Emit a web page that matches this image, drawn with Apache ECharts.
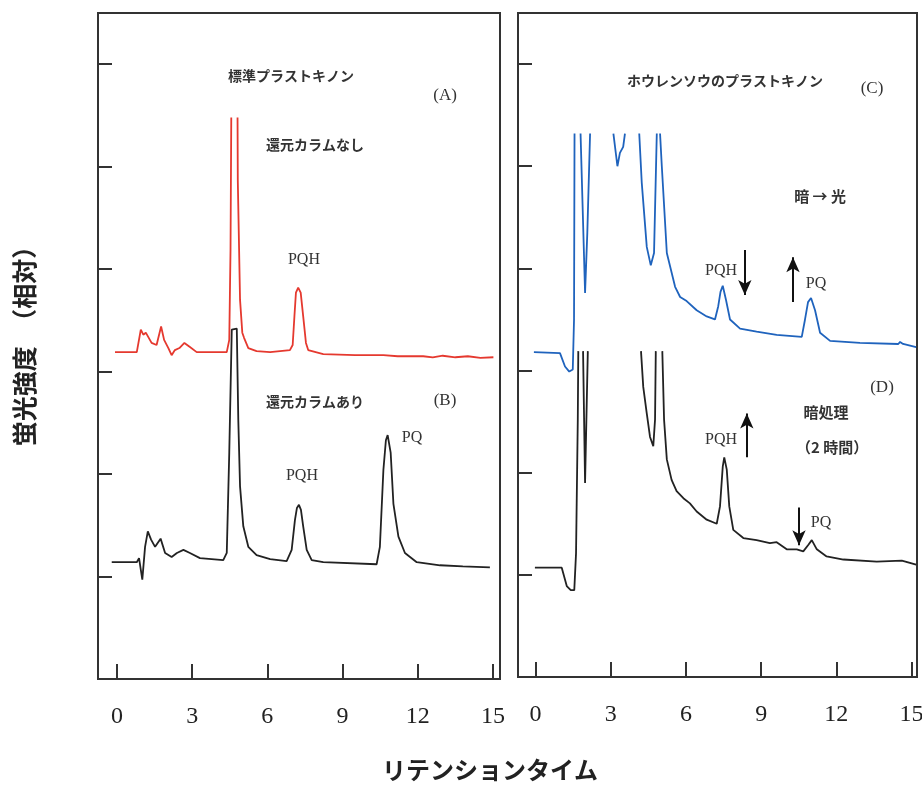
<!DOCTYPE html>
<html>
<head>
<meta charset="utf-8">
<script src="https://cdn.jsdelivr.net/npm/echarts@6/dist/echarts.min.js"></script>
<style>
  html, body { margin: 0; padding: 0; background: #fff; }
  #chart { width: 922px; height: 807px; }
</style>
</head>
<body>
<div id="chart"></div>
<script>
// retention time ticks / intensity ticks
var timeTicks = [0, 3, 6, 9, 12, 15]
var intensityTicks = [1, 2, 3, 4, 5, 6]

// (A) standard plastoquinone, no reduction column (red); null = trace leaves the plot
var traceA = [
  [-0.08, 3.19], [0.79, 3.19], [0.95, 3.41], [1.05, 3.36], [1.15, 3.38], [1.38, 3.28],
  [1.58, 3.26], [1.76, 3.44], [1.88, 3.31], [2.05, 3.23], [2.18, 3.16], [2.31, 3.21],
  [2.49, 3.23], [2.69, 3.28], [2.91, 3.24], [3.18, 3.19], [4.38, 3.19], [4.48, 3.31],
  [4.53, 4.19], [4.56, 5.48], null,
  [4.81, 5.48], [4.82, 4.87], [4.91, 3.70], [5.00, 3.38], [5.07, 3.33], [5.24, 3.23],
  [5.57, 3.20], [6.11, 3.19], [6.90, 3.21], [7.01, 3.26], [7.08, 3.54], [7.14, 3.77],
  [7.23, 3.82], [7.33, 3.77], [7.43, 3.54], [7.54, 3.28], [7.63, 3.21], [8.23, 3.17],
  [9.5, 3.16], [10.63, 3.16], [11.2, 3.15], [12.22, 3.15], [12.6, 3.14], [13.0, 3.155],
  [13.5, 3.14], [14.0, 3.15], [14.5, 3.135], [15.02, 3.14]
]

// (B) with reduction column (black)
var traceB = [
  [-0.21, 1.14], [0.79, 1.14], [0.88, 1.18], [1.01, 0.97], [1.12, 1.29], [1.23, 1.44],
  [1.36, 1.36], [1.52, 1.29], [1.74, 1.37], [1.92, 1.23], [2.18, 1.19], [2.39, 1.23],
  [2.65, 1.26], [2.91, 1.23], [3.31, 1.18], [4.24, 1.16], [4.38, 1.23], [4.48, 2.21],
  [4.58, 3.41], [4.60, 3.42], [4.78, 3.42], [4.84, 2.53], [4.91, 1.88], [5.04, 1.49],
  [5.24, 1.29], [5.57, 1.21], [6.11, 1.17], [6.77, 1.15], [6.97, 1.26], [7.10, 1.55],
  [7.18, 1.67], [7.26, 1.70], [7.34, 1.65], [7.43, 1.49], [7.57, 1.26], [7.77, 1.16],
  [8.23, 1.14], [10.36, 1.12], [10.49, 1.29], [10.63, 2.04], [10.73, 2.33], [10.80, 2.38],
  [10.92, 2.21], [11.03, 1.71], [11.23, 1.39], [11.49, 1.23], [11.96, 1.14], [12.89, 1.11],
  [13.8, 1.10], [14.88, 1.09]
]

// (C) spinach, dark -> light (blue)
var traceC = [
  [-0.06, 3.18], [0.98, 3.17], [1.18, 3.04], [1.35, 2.99], [1.49, 3.01], [1.54, 3.50],
  [1.56, 5.32], null,
  [1.80, 5.32], [1.98, 3.76], [2.07, 4.35], [2.18, 5.32], null,
  [3.11, 5.32], [3.27, 5.00], [3.37, 5.13], [3.50, 5.19], [3.57, 5.32], null,
  [4.14, 5.32], [4.24, 4.84], [4.44, 4.21], [4.60, 4.03], [4.73, 4.15], [4.84, 5.32], null,
  [4.97, 5.32], [5.04, 5.00], [5.24, 4.15], [5.57, 3.82], [5.77, 3.72], [6.03, 3.68],
  [6.43, 3.59], [6.83, 3.53], [7.16, 3.50], [7.29, 3.63], [7.38, 3.77], [7.47, 3.83],
  [7.60, 3.69], [7.76, 3.50], [8.16, 3.41], [8.82, 3.38], [9.62, 3.35], [10.62, 3.33],
  [10.75, 3.50], [10.87, 3.67], [10.99, 3.71], [11.15, 3.59], [11.35, 3.37], [11.75, 3.29],
  [12.94, 3.27], [14.47, 3.26], [14.54, 3.28], [14.66, 3.26], [15.18, 3.23]
]

// (D) spinach, dark treatment 2 h (black)
var traceD = [
  [-0.02, 1.07], [1.05, 1.07], [1.25, 0.89], [1.41, 0.85], [1.55, 0.85], [1.62, 1.21],
  [1.69, 2.52], [1.71, 3.19], null,
  [1.90, 3.19], [1.98, 1.90], [2.09, 3.19], null,
  [4.21, 3.19], [4.30, 2.84], [4.44, 2.58], [4.57, 2.35], [4.70, 2.26], [4.77, 2.52],
  [4.80, 3.19], null,
  [5.06, 3.19], [5.13, 2.52], [5.24, 2.13], [5.43, 1.93], [5.63, 1.82], [5.90, 1.75],
  [6.16, 1.70], [6.43, 1.62], [6.83, 1.54], [7.23, 1.50], [7.36, 1.67], [7.47, 2.06],
  [7.53, 2.15], [7.63, 2.03], [7.73, 1.67], [7.89, 1.44], [8.29, 1.36], [8.82, 1.34],
  [9.35, 1.31], [9.62, 1.32], [10.02, 1.25], [10.42, 1.25], [10.68, 1.23], [10.87, 1.29],
  [11.02, 1.34], [11.22, 1.25], [11.61, 1.18], [12.28, 1.15], [13.61, 1.13], [14.61, 1.14],
  [15.18, 1.10]
]

// text notes: [text, x, y, kind]  kind: 'jp' gothic, 'en' serif
var notesLeft = [
  ['標準プラストキノン', 6.94, 5.89, 'jp'],
  ['(A)', 13.09, 5.69, 'en'],
  ['還元カラムなし', 7.90, 5.21, 'jp'],
  ['PQH', 7.46, 4.09, 'en'],
  ['還元カラムあり', 7.90, 2.71, 'jp'],
  ['(B)', 13.09, 2.72, 'en'],
  ['PQ', 11.77, 2.35, 'en'],
  ['PQH', 7.38, 1.98, 'en']
]
var notesRight = [
  ['ホウレンソウのプラストキノン', 7.56, 5.84, 'jp'],
  ['(C)', 13.42, 5.76, 'en'],
  ['暗 → 光', 11.35, 4.71, 'jp2'],
  ['PQH', 7.40, 3.98, 'en'],
  ['PQ', 11.19, 3.85, 'en'],
  ['(D)', 13.82, 2.83, 'en'],
  ['暗処理', 11.59, 2.59, 'jp2'],
  ['（2 時間）', 11.83, 2.25, 'jp2'],
  ['PQH', 7.40, 2.32, 'en'],
  ['PQ', 11.39, 1.51, 'en']
]
// arrows: [x, yFrom, yTo] (head at yTo)
var arrowsRight = [
  [8.35, 4.18, 3.74],
  [10.27, 3.67, 4.11],
  [8.43, 2.15, 2.58],
  [10.51, 1.66, 1.29]
]

function fixGaps(arr) {
  return arr.map(function (p) { return p === null ? ['-', '-'] : p })
}

function notePoints(list) {
  return list.map(function (n) {
    var serif = n[3] === 'en'
    return {
      name: n[0],
      coord: [n[1], n[2]],
      label: {
        fontFamily: serif ? 'Liberation Serif' : 'Noto Sans CJK JP',
        fontWeight: serif ? 'normal' : 'bold',
        fontSize: serif ? (n[0].charAt(0) === '(' ? 17 : 16) : (n[3] === 'jp2' ? 15 : 14)
      }
    }
  })
}

function arrowLines(list) {
  return list.map(function (a) {
    return [{ coord: [a[0], a[1]] }, { coord: [a[0], a[2]] }]
  })
}

var markPointBase = {
  symbol: 'rect',
  symbolSize: 1,
  itemStyle: { color: 'rgba(0,0,0,0)' },
  label: {
    show: true,
    position: 'inside',
    color: '#333',
    formatter: function (p) { return p.name }
  },
  animation: false
}

function axisX(idx, min, max) {
  return {
    type: 'value',
    gridIndex: idx,
    min: min,
    max: max,
    axisLine: { show: false, onZero: false },
    splitLine: { show: false },
    axisTick: {
      show: true,
      inside: true,
      length: 15,
      customValues: timeTicks,
      lineStyle: { color: '#333', width: 2 }
    },
    axisLabel: {
      show: true,
      customValues: timeTicks,
      margin: 26,
      fontFamily: 'Liberation Serif',
      fontSize: 24,
      color: '#222'
    }
  }
}

function axisY(idx) {
  return {
    type: 'value',
    gridIndex: idx,
    min: 0,
    max: 6.5,
    axisLine: { show: false, onZero: false },
    splitLine: { show: false },
    axisLabel: { show: false },
    axisTick: {
      show: true,
      inside: true,
      length: 14,
      customValues: intensityTicks,
      lineStyle: { color: '#333', width: 2 }
    }
  }
}

function trace(name, data, idx, color) {
  return {
    name: name,
    type: 'line',
    xAxisIndex: idx,
    yAxisIndex: idx,
    data: fixGaps(data),
    showSymbol: false,
    symbol: 'none',
    connectNulls: false,
    lineStyle: { color: color, width: 1.8 },
    animation: false
  }
}

var chart = echarts.init(document.getElementById('chart'))

var seriesA = trace('A', traceA, 0, '#e5392f')
var seriesB = trace('B', traceB, 0, '#222222')
seriesB.markPoint = Object.assign({}, markPointBase, { data: notePoints(notesLeft) })
var seriesC = trace('C', traceC, 1, '#1f63bd')
var seriesD = trace('D', traceD, 1, '#222222')
seriesD.markPoint = Object.assign({}, markPointBase, { data: notePoints(notesRight) })
seriesD.markLine = {
  silent: true,
  symbol: ['none', 'arrow'],
  symbolSize: [10, 15],
  label: { show: false },
  lineStyle: { color: '#111', width: 2, type: 'solid' },
  animation: false,
  data: arrowLines(arrowsRight)
}

var option = {
  animation: false,
  backgroundColor: '#fff',
  grid: [
    { left: 98, top: 13, width: 402, height: 666, outerBoundsMode: 'none', show: true, borderColor: '#333', borderWidth: 2, backgroundColor: 'transparent' },
    { left: 518, top: 13, width: 399, height: 664, outerBoundsMode: 'none', show: true, borderColor: '#333', borderWidth: 2, backgroundColor: 'transparent' }
  ],
  xAxis: [axisX(0, -0.758, 15.283), axisX(1, -0.694, 15.215)],
  yAxis: [axisY(0), axisY(1)],
  series: [seriesA, seriesB, seriesC, seriesD],
  graphic: [
    {
      type: 'text',
      x: 490,
      y: 770,
      style: {
        text: 'リテンションタイム',
        font: 'bold 24px "Noto Sans CJK JP"',
        fill: '#222',
        align: 'center',
        verticalAlign: 'middle'
      }
    },
    {
      type: 'text',
      x: 24,
      y: 340,
      rotation: Math.PI / 2,
      style: {
        text: '蛍光強度　（相対）',
        font: 'bold 25px "Noto Sans CJK JP"',
        fill: '#222',
        align: 'center',
        verticalAlign: 'middle'
      }
    }
  ]
}

chart.setOption(option)
</script>
</body>
</html>
